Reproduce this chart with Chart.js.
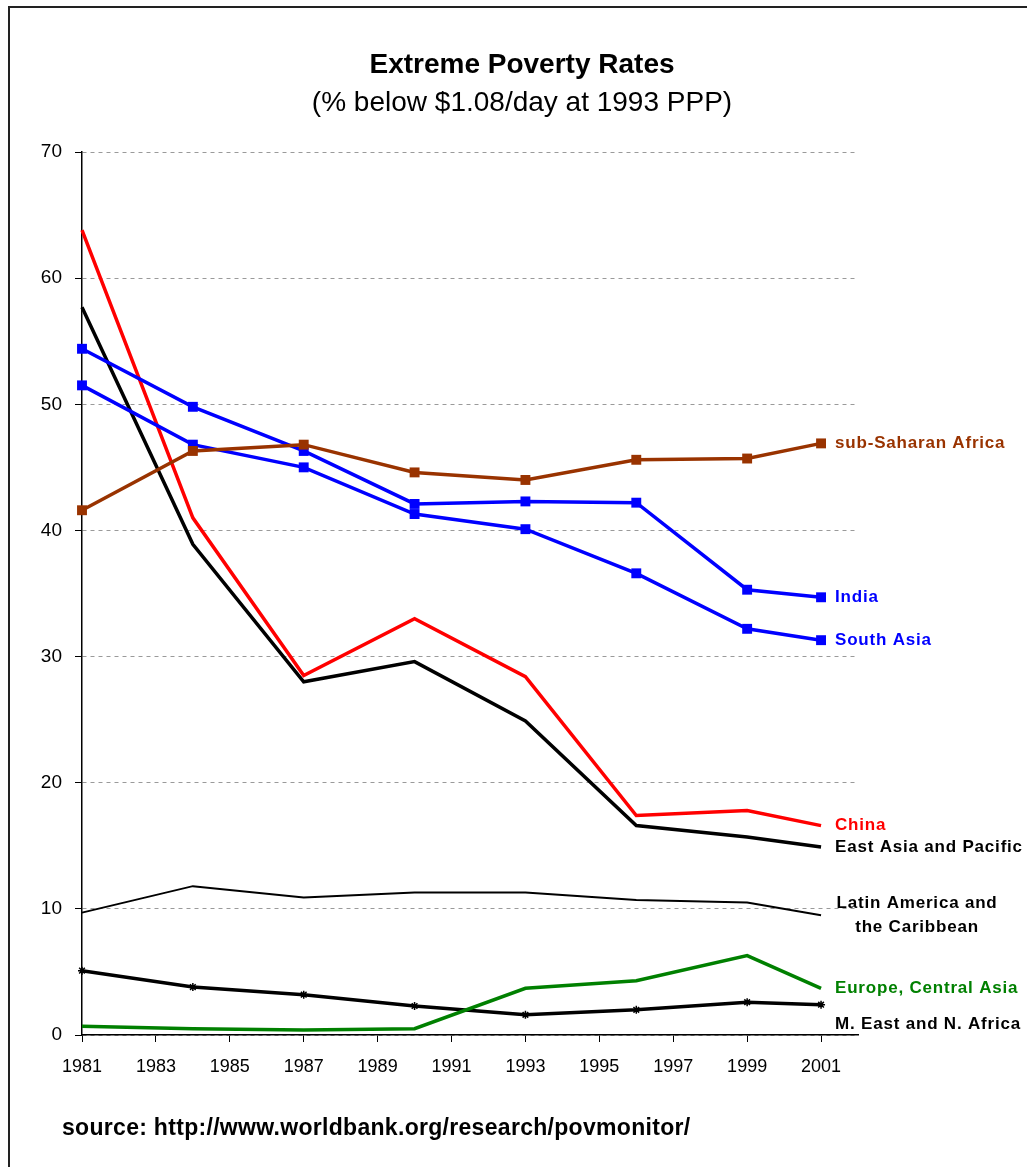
<!DOCTYPE html>
<html>
<head>
<meta charset="utf-8">
<title>Extreme Poverty Rates</title>
<script src="https://cdn.jsdelivr.net/npm/chart.js@4.4.0/dist/chart.umd.min.js"></script>
<style>
  html, body { margin: 0; padding: 0; background: #fff; }
  #wrap { position: relative; width: 1027px; height: 1167px; overflow: hidden; }
  #frame { position: absolute; left: 8px; top: 6px; right: -10px; bottom: -10px;
           border-left: 2px solid #222; border-top: 2px solid #222; }
  canvas { position: absolute; left: 0; top: 0; }
</style>
</head>
<body>
<div id="wrap">
  <div id="frame"></div>
  <canvas id="chart" width="1027" height="1167"></canvas>
</div>
<script>
// survey years and axis ticks
const years = [1981, 1984, 1987, 1990, 1993, 1996, 1999, 2001];
const xTickYears = [1981, 1983, 1985, 1987, 1989, 1991, 1993, 1995, 1997, 1999, 2001];
const yTickValues = [0, 10, 20, 30, 40, 50, 60, 70];

// % of population below $1.08/day
const subSaharanAfrica = [41.6, 46.3, 46.8, 44.6, 44.0, 45.6, 45.7, 46.9];
const india            = [54.4, 49.8, 46.3, 42.1, 42.3, 42.2, 35.3, 34.7];
const southAsia        = [51.5, 46.8, 45.0, 41.3, 40.1, 36.6, 32.2, 31.3];
const china            = [63.8, 41.0, 28.5, 33.0, 28.4, 17.4, 17.8, 16.6];
const eastAsiaPacific  = [57.7, 38.9, 28.0, 29.6, 24.9, 16.6, 15.7, 14.9];
const latinAmerica     = [9.7, 11.8, 10.9, 11.3, 11.3, 10.7, 10.5, 9.5];
const europeCentral    = [0.7, 0.5, 0.4, 0.5, 3.7, 4.3, 6.3, 3.7];
const middleEast       = [5.1, 3.8, 3.2, 2.3, 1.6, 2.0, 2.6, 2.4];

const FONT = '"Liberation Sans", Arial, sans-serif';

const toPoints = (values) => values.map((v, i) => ({ x: years[i], y: v }));

// one line per region, end label drawn by the plugin below
const series = [
  { name: ['sub-Saharan Africa'], values: subSaharanAfrica, color: '#993300', width: 3.5, marker: 'rect', radius: 7 },
  { name: ['India'], values: india, color: '#0000ff', width: 3.5, marker: 'rect', radius: 7 },
  { name: ['South Asia'], values: southAsia, color: '#0000ff', width: 3.5, marker: 'rect', radius: 7 },
  { name: ['China'], values: china, color: '#ff0000', width: 3.5, marker: false, radius: 0 },
  { name: ['East Asia and Pacific'], values: eastAsiaPacific, color: '#000000', width: 3.5, marker: false, radius: 0 },
  { name: ['Latin America and', 'the Caribbean'], values: latinAmerica, color: '#000000', width: 2, marker: false, radius: 0, center: true },
  { name: ['Europe, Central Asia'], values: europeCentral, color: '#008000', width: 3.5, marker: false, radius: 0 },
  { name: ['M. East and N. Africa'], values: middleEast, color: '#000000', width: 3.5, marker: 'star', radius: 4, shift: 20 },
];

const datasets = series.map(s => ({
  label: s.name.join(' '),
  data: toPoints(s.values),
  borderColor: s.color,
  backgroundColor: s.color,
  borderWidth: s.width,
  pointStyle: s.marker,
  pointRadius: s.radius,
  pointBorderWidth: s.marker === 'star' ? 1.5 : 0,
  pointBorderColor: s.color,
  tension: 0,
  clip: false,
}));

// titles, source line and labels at the end of each line
const textPlugin = {
  id: 'chartTexts',
  afterDraw: (chart) => {
    const { ctx } = chart;
    ctx.save();
    ctx.fillStyle = '#000';
    ctx.textAlign = 'center';
    ctx.textBaseline = 'middle';
    ctx.font = `bold 28px ${FONT}`;
    ctx.fillText('Extreme Poverty Rates', 522, 65);
    ctx.font = `28px ${FONT}`;
    ctx.fillText('(% below $1.08/day at 1993 PPP)', 522, 103);

    ctx.textAlign = 'left';
    ctx.font = `bold 23px ${FONT}`;
    ctx.letterSpacing = '0.3px';
    ctx.fillText('source: http://www.worldbank.org/research/povmonitor/', 62, 1129);

    ctx.font = `bold 17px ${FONT}`;
    ctx.letterSpacing = '0.8px';
    series.forEach((s, i) => {
      const meta = chart.getDatasetMeta(i);
      const last = meta.data[meta.data.length - 1];
      const y0 = last.y + (s.shift || 0);
      ctx.fillStyle = s.color;
      if (s.center) {
        ctx.textAlign = 'center';
        ctx.fillText(s.name[0], last.x + 96, y0 - 12);
        ctx.fillText(s.name[1], last.x + 96, y0 + 12);
      } else {
        ctx.textAlign = 'left';
        ctx.fillText(s.name[0], last.x + 14, y0);
      }
    });
    ctx.restore();
  },
};

new Chart(document.getElementById('chart'), {
  type: 'line',
  data: { datasets },
  options: {
    responsive: false,
    animation: false,
    layout: { padding: { left: 0, right: 169, top: 152, bottom: 0 } },
    plugins: {
      legend: { display: false },
      tooltip: { enabled: false },
      title: { display: false },
    },
    scales: {
      x: {
        type: 'linear',
        min: 1981,
        max: 2002,
        afterBuildTicks: (axis) => { axis.ticks = xTickYears.map(v => ({ value: v })); },
        afterFit: (axis) => { axis.height = 132; },
        grid: { drawOnChartArea: false, drawTicks: true, tickLength: 7, tickColor: '#000', tickWidth: 1 },
        border: { display: true, color: '#000', width: 1.5 },
        ticks: {
          color: '#000',
          font: { family: FONT, size: 18 },
          padding: 14,
          maxRotation: 0,
          autoSkip: false,
          callback: (v) => String(v),
        },
      },
      y: {
        min: 0,
        max: 70,
        afterBuildTicks: (axis) => { axis.ticks = yTickValues.map(v => ({ value: v })); },
        afterFit: (axis) => { axis.width = 82; },
        grid: { color: '#9a9a9a', lineWidth: 1, tickColor: '#000', tickLength: 7, tickBorderDash: [] },
        border: { display: true, color: '#000', width: 1.5, dash: [4, 4] },
        ticks: {
          color: '#000',
          font: { family: FONT, size: 19 },
          padding: 13,
        },
      },
    },
  },
  plugins: [textPlugin],
});
</script>
</body>
</html>
